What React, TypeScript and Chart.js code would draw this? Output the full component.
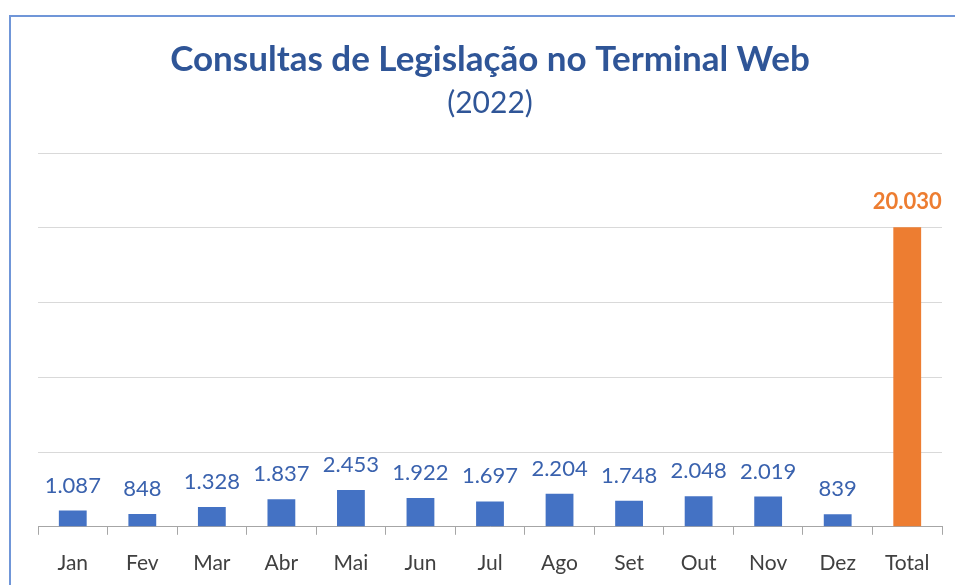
import React, { useEffect, useRef } from "react";
import { Chart, registerables } from "chart.js";

Chart.register(...registerables);

const categories = ["Jan", "Fev", "Mar", "Abr", "Mai", "Jun", "Jul", "Ago", "Set", "Out", "Nov", "Dez", "Total"];
const values = [1087, 848, 1328, 1837, 2453, 1922, 1697, 2204, 1748, 2048, 2019, 839, 20030];
const titleText = "Consultas de Legislação no Terminal Web";
const subtitleText = "(2022)";

const FONT = "Lato, 'Open Sans', sans-serif";
const BLUE = "#4472C4";
const ORANGE = "#ED7D31";
const LABEL_BLUE = "#3A62AE";
const TITLE_BLUE = "#2F5597";

const fmt = (v: number) => v.toString().replace(/\B(?=(\d{3})+(?!\d))/g, ".");

const labelPlugin = {
  id: "valueLabels",
  afterDatasetsDraw(chart: any) {
    const ctx = chart.ctx;
    const meta = chart.getDatasetMeta(0);
    ctx.save();
    ctx.textAlign = "center";
    ctx.textBaseline = "alphabetic";
    meta.data.forEach((bar: any, i: number) => {
      const isTotal = categories[i] === "Total";
      ctx.font = (isTotal ? "bold " : "") + "22px " + FONT;
      ctx.fillStyle = isTotal ? ORANGE : LABEL_BLUE;
      ctx.fillText(fmt(values[i]), bar.x, bar.y - 18);
    });
    ctx.restore();
  },
};

export default function App() {
  const ref = useRef<HTMLCanvasElement | null>(null);
  useEffect(() => {
    if (!ref.current) return;
    const chart = new Chart(ref.current, {
      type: "bar",
      data: {
        labels: categories,
        datasets: [
          {
            data: values,
            backgroundColor: categories.map((c) => (c === "Total" ? ORANGE : BLUE)),
            categoryPercentage: 1,
            barPercentage: 0.4,
          },
        ],
      },
      options: {
        animation: false,
        responsive: false,
        maintainAspectRatio: false,
        layout: { padding: { left: 38, right: 13, top: 0, bottom: 0 } },
        plugins: {
          legend: { display: false },
          tooltip: { enabled: false },
          title: {
            display: true,
            text: titleText,
            color: TITLE_BLUE,
            font: { family: FONT, size: 35, weight: "bold" },
            padding: { top: 39, bottom: 4 },
          },
          subtitle: {
            display: true,
            text: subtitleText,
            color: TITLE_BLUE,
            font: { family: FONT, size: 30, weight: "normal" },
            padding: { top: 0, bottom: 32 },
          },
        },
        scales: {
          x: {
            grid: { drawOnChartArea: false, drawTicks: true, tickLength: 8, color: "#A6A6A6", offset: true },
            border: { display: true, color: "#A6A6A6", width: 1 },
            ticks: { color: "#404040", font: { family: FONT, size: 21 }, padding: 16, maxRotation: 0, autoSkip: false },
          },
          y: {
            min: 0,
            max: 25000,
            ticks: { display: false, stepSize: 5000 },
            grid: { color: "#D9D9D9", drawTicks: false },
            border: { display: false },
          },
        },
      },
      plugins: [labelPlugin],
    });
    return () => chart.destroy();
  }, []);
  return (
    <div style={{ position: "fixed", left: 0, top: 0, width: 955, height: 585, background: "#fff", overflow: "hidden" }}>
      <canvas ref={ref} width={955} height={592} style={{ position: "absolute", left: 0, top: 0 }} />
      <div
        style={{
          position: "absolute",
          left: 9,
          top: 15,
          width: 1000,
          height: 1000,
          borderLeft: "2px solid #7096D8",
          borderTop: "2px solid #7096D8",
          pointerEvents: "none",
        }}
      />
    </div>
  );
}
